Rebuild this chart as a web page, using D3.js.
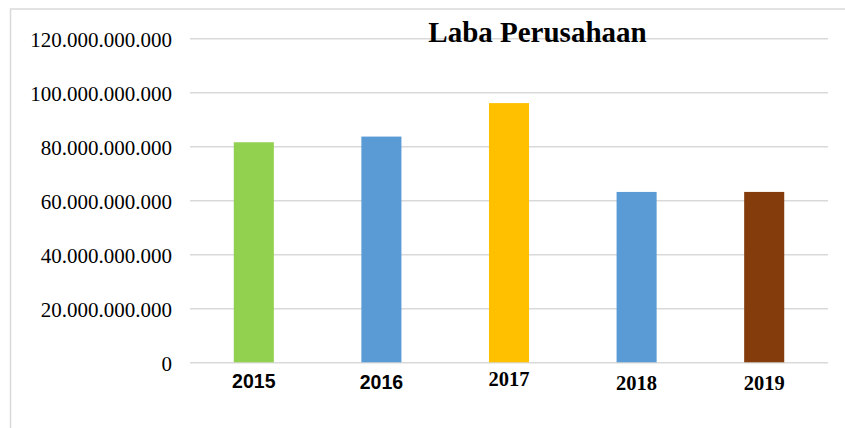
<!DOCTYPE html>
<html>
<head>
<meta charset="utf-8">
<script src="https://cdn.jsdelivr.net/npm/d3@7"></script>
<style>
  html, body { margin: 0; padding: 0; background: #fff; }
  svg { display: block; }
</style>
</head>
<body>
<div id="chart"></div>
<script>
// data
const years = ["2015", "2016", "2017", "2018", "2019"];
const laba = [81.5e9, 83.6e9, 96.0e9, 63.1e9, 63.1e9];
const yTicks = [0, 20e9, 40e9, 60e9, 80e9, 100e9, 120e9];
const title = "Laba Perusahaan";

const W = 845, H = 428;
const margin = {top: 38.3, right: 17, bottom: 65.7, left: 190};
const width = W - margin.left - margin.right,
      height = H - margin.top - margin.bottom;

const svg = d3.select("#chart")
  .append("svg")
  .attr("width", W)
  .attr("height", H);

svg.append("rect").attr("width", W).attr("height", H).attr("fill", "#fff");

// outer frame (only top and left visible)
svg.append("path")
  .attr("d", "M10.5,428 L10.5,9 L845,9")
  .attr("fill", "none")
  .attr("stroke", "#d9d9d9")
  .attr("stroke-width", 1.5);

const g = svg.append("g")
  .attr("transform", "translate(" + margin.left + "," + margin.top + ")");

const x = d3.scaleBand()
  .domain(years)
  .range([0, width])
  .paddingInner(0.686)
  .paddingOuter(0.343);

const y = d3.scaleLinear()
  .domain([0, 120e9])
  .range([height, 0]);

const color = d3.scaleOrdinal()
  .domain(years)
  .range(["#92d050", "#5b9bd5", "#ffc000", "#5b9bd5", "#843c0c"]);

const fmt = d3.formatLocale({decimal: ",", thousands: ".", grouping: [3], currency: ["", ""]}).format(",.0f");

// y axis + gridlines
const yAxis = g.append("g")
  .call(d3.axisLeft(y)
    .tickValues(yTicks)
    .tickSize(-width)
    .tickPadding(18)
    .tickFormat(fmt));
yAxis.select(".domain").remove();
yAxis.selectAll(".tick line")
  .attr("stroke", "#d9d9d9")
  .attr("stroke-width", 1.6);
yAxis.selectAll(".tick text")
  .attr("font-family", "'Liberation Serif', 'Times New Roman', serif")
  .attr("font-size", "21px")
  .attr("fill", "#000")
  .attr("dy", "0.37em");

// bars
g.append("g")
  .selectAll("rect")
  .data(years)
  .enter().append("rect")
    .attr("x", d => x(d))
    .attr("width", x.bandwidth())
    .attr("y", (d, i) => y(laba[i]))
    .attr("height", (d, i) => y(0) - y(laba[i]))
    .attr("fill", d => color(d));

// x labels (first two in sans, rest in serif as in source)
const baseOff = [26, 27, 24, 28, 28];
g.append("g")
  .selectAll("text")
  .data(years)
  .enter().append("text")
    .attr("x", d => x(d) + x.bandwidth() / 2)
    .attr("y", (d, i) => height + baseOff[i])
    .attr("text-anchor", "middle")
    .attr("font-weight", "bold")
    .attr("font-family", (d, i) => i < 2 ? "'Liberation Sans', Arial, sans-serif" : "'Liberation Serif', 'Times New Roman', serif")
    .attr("font-size", (d, i) => i < 2 ? "19.5px" : "20.5px")
    .attr("fill", "#000")
    .text(d => d);

// title
svg.append("text")
  .attr("x", 537.5)
  .attr("y", 41.7)
  .attr("text-anchor", "middle")
  .attr("font-family", "'Liberation Serif', 'Times New Roman', serif")
  .attr("font-weight", "bold")
  .attr("font-size", "29px")
  .attr("fill", "#000")
  .text(title);
</script>
</body>
</html>
